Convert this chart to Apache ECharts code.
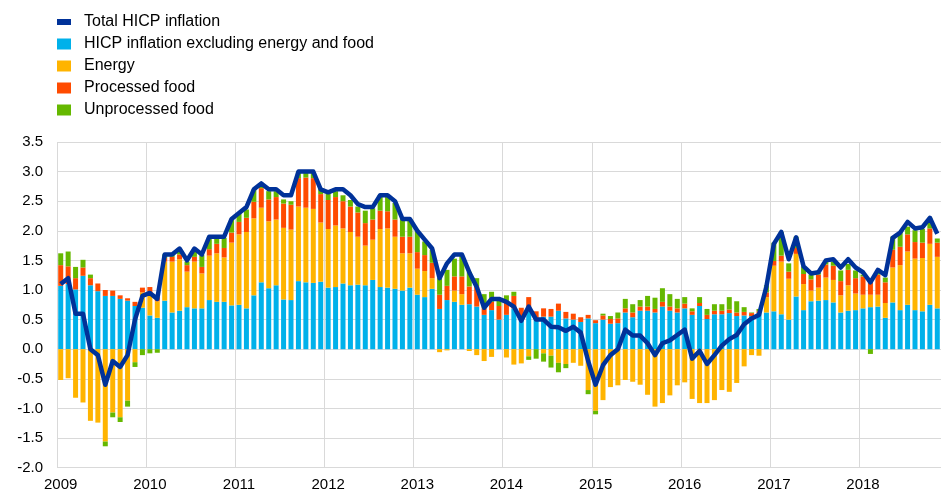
<!DOCTYPE html>
<html>
<head>
<meta charset="utf-8">
<script src="https://cdn.jsdelivr.net/npm/echarts@6/dist/echarts.min.js"></script>
<style>
  html, body { margin: 0; padding: 0; background: #fff; }
  #chart { width: 941px; height: 493px; }
</style>
</head>
<body>
<div id="chart"></div>
<script>
// months Jan 2009 - Nov 2018
const years = ['2009', '2010', '2011', '2012', '2013', '2014', '2015', '2016', '2017', '2018'];
const monthsInLastYear = 11;

// contributions, percentage points
const core = [
  1.07, 1.1, 1.01, 1.24, 1.08, 0.98, 0.9, 0.9, 0.85, 0.82, 0.73, 0.7,
  0.57, 0.53, 0.82, 0.62, 0.65, 0.71, 0.69, 0.69, 0.83, 0.8, 0.8, 0.74,
  0.75, 0.69, 0.91, 1.13, 1.03, 1.08, 0.84, 0.83, 1.15, 1.13, 1.12, 1.14,
  1.04, 1.05, 1.11, 1.08, 1.09, 1.08, 1.17, 1.05, 1.04, 1.02, 0.99, 1.04,
  0.92, 0.88, 1.02, 0.68, 0.83, 0.8, 0.75, 0.76, 0.72, 0.58, 0.66, 0.5,
  0.58, 0.69, 0.55, 0.69, 0.53, 0.55, 0.55, 0.65, 0.52, 0.5, 0.46, 0.52,
  0.44, 0.5, 0.43, 0.44, 0.62, 0.54, 0.65, 0.65, 0.62, 0.72, 0.65, 0.62,
  0.69, 0.58, 0.73, 0.51, 0.59, 0.59, 0.61, 0.56, 0.57, 0.56, 0.61, 0.62,
  0.64, 0.59, 0.5, 0.89, 0.66, 0.81, 0.82, 0.83, 0.79, 0.62, 0.65, 0.66,
  0.69, 0.71, 0.72, 0.53, 0.79, 0.66, 0.75, 0.66, 0.64, 0.75, 0.69
];
const energy = [
  -0.52, -0.49, -0.82, -0.9, -1.21, -1.24, -1.56, -1.07, -1.15, -0.87, -0.22, 0.26,
  0.38, 0.28, 0.66, 0.86, 0.87, 0.6, 0.79, 0.59, 0.75, 0.82, 0.75, 1.06,
  1.19, 1.29, 1.3, 1.26, 1.13, 1.11, 1.21, 1.19, 1.26, 1.26, 1.25, 1.0,
  0.99, 1.04, 0.93, 0.9, 0.81, 0.67, 0.68, 0.98, 1.0, 0.88, 0.63, 0.58,
  0.44, 0.44, 0.18, -0.05, -0.02, 0.19, 0.18, -0.03, -0.1, -0.2, -0.13, 0,
  -0.14, -0.26, -0.24, -0.12, 0, -0.07, -0.11, -0.23, -0.25, -0.23, -0.28, -0.69,
  -1.04, -0.86, -0.64, -0.61, -0.52, -0.55, -0.6, -0.77, -0.97, -0.91, -0.78, -0.61,
  -0.56, -0.84, -0.91, -0.91, -0.86, -0.69, -0.72, -0.57, -0.29, -0.1, -0.11, 0.26,
  0.77, 0.89, 0.69, 0.72, 0.44, 0.18, 0.22, 0.38, 0.38, 0.29, 0.43, 0.28,
  0.23, 0.21, 0.2, 0.25, 0.59, 0.76, 0.9, 0.87, 0.9, 1.03, 0.87
];
const processedFood = [
  0.35, 0.3, 0.19, 0.14, 0.12, 0.13, 0.1, 0.09, 0.06, 0.04, 0.07, 0.08,
  0.1, 0.07, 0.06, 0.08, 0.08, 0.11, 0.08, 0.11, 0.11, 0.16, 0.16, 0.17,
  0.21, 0.24, 0.28, 0.33, 0.37, 0.38, 0.41, 0.42, 0.48, 0.51, 0.52, 0.48,
  0.49, 0.48, 0.46, 0.43, 0.41, 0.38, 0.34, 0.31, 0.29, 0.29, 0.28, 0.28,
  0.28, 0.27, 0.26, 0.24, 0.24, 0.24, 0.3, 0.3, 0.34, 0.11, 0.14, 0.23,
  0.22, 0.21, 0.15, 0.19, 0.11, 0.14, 0.13, 0.12, 0.11, 0.1, 0.08, 0.06,
  0.05, 0.07, 0.08, 0.08, 0.07, 0.08, 0.07, 0.07, 0.06, 0.08, 0.07, 0.07,
  0.08, 0.06, 0.05, 0.07, 0.06, 0.06, 0.06, 0.06, 0.06, 0.05, 0.03, 0.08,
  0.08, 0.1, 0.12, 0.1, 0.17, 0.19, 0.22, 0.22, 0.24, 0.24, 0.26, 0.26,
  0.31, 0.22, 0.34, 0.35, 0.3, 0.31, 0.29, 0.28, 0.26, 0.26, 0.24
];
const unprocessedFood = [
  0.2, 0.25, 0.19, 0.13, 0.06, 0, -0.08, -0.08, -0.08, -0.1, -0.08, -0.1,
  -0.07, -0.06, 0.06, 0.04, 0.06, 0.06, 0.09, 0.2, 0.2, 0.12, 0.17, 0.23,
  0.15, 0.14, 0.21, 0.06, 0.14, 0.1, 0.07, 0.06, 0.11, 0.1, 0.1, 0.1,
  0.12, 0.1, 0.1, 0.11, 0.1, 0.21, 0.19, 0.26, 0.25, 0.28, 0.31, 0.3,
  0.35, 0.23, 0.22, 0.28, 0.27, 0.3, 0.35, 0.25, 0.14, 0.24, 0.17, 0.11,
  0.11, 0.07, 0, -0.06, -0.16, -0.14, -0.2, -0.16, -0.07, 0, 0, -0.07,
  -0.06, 0.03, 0.05, 0.1, 0.16, 0.14, 0.11, 0.18, 0.19, 0.23, 0.21, 0.16,
  0.11, 0.05, 0.1, 0.1, 0.11, 0.11, 0.21, 0.19, 0.08, 0.01, 0.04, 0.12,
  0.31, 0.4, 0.14, 0.19, 0.13, 0.08, 0.03, 0.05, 0.07, 0.18, 0.1, 0.13,
  0.03, -0.08, 0.04, 0.08, 0.22, 0.25, 0.13, 0.2, 0.23, 0.18, 0.07
];
// total HICP inflation, annual % change
const totalHicp = [
  1.1, 1.2, 0.6, 0.6, 0.0, -0.1, -0.6, -0.2, -0.3, -0.1, 0.5, 0.9,
  0.95, 0.85, 1.6, 1.6, 1.7, 1.5, 1.7, 1.6, 1.9, 1.9, 1.9, 2.2,
  2.3, 2.4, 2.7, 2.8, 2.7, 2.7, 2.6, 2.6, 3.0, 3.0, 3.0, 2.7,
  2.65, 2.7, 2.7, 2.6, 2.45, 2.4, 2.4, 2.6, 2.6, 2.5, 2.2, 2.2,
  2.0, 1.85, 1.7, 1.2, 1.45, 1.6, 1.6, 1.3, 1.05, 0.7, 0.85, 0.85,
  0.8, 0.72, 0.48, 0.72, 0.5, 0.5, 0.38, 0.37, 0.31, 0.38, 0.28, -0.2,
  -0.6, -0.27, -0.1, 0.0, 0.33, 0.23, 0.23, 0.1, -0.1, 0.1, 0.15, 0.24,
  0.33, -0.16, -0.03, -0.25, -0.1, 0.06, 0.17, 0.24, 0.42, 0.52, 0.58, 1.06,
  1.78, 1.98, 1.52, 1.89, 1.4, 1.28, 1.3, 1.5, 1.52, 1.38, 1.52, 1.38,
  1.3, 1.13, 1.34, 1.25, 1.88, 1.97, 2.15, 2.04, 2.06, 2.22, 1.95
];

const months = [];
years.forEach((y, yi) => {
  const n = yi === years.length - 1 ? monthsInLastYear : 12;
  for (let m = 1; m <= n; m++) {
    months.push(y + '-' + (m < 10 ? '0' + m : m));
  }
});

const colors = {
  total: '#003299',
  core: '#00b1ea',
  energy: '#ffb400',
  processed: '#ff4b00',
  unprocessed: '#65b800'
};

const font = '"Liberation Sans", Arial, sans-serif';
const gridColor = '#d9d9d9';

const chart = echarts.init(document.getElementById('chart'), null, { renderer: 'canvas' });

function barSeries(name, data, color) {
  return {
    name: name,
    type: 'bar',
    stack: 'hicp',
    barWidth: 5,
    data: data,
    itemStyle: { color: color }
  };
}

chart.setOption({
  animation: false,
  textStyle: { fontFamily: font },
  legend: {
    orient: 'vertical',
    left: 57,
    top: 14,
    padding: 0,
    itemWidth: 14,
    itemHeight: 11,
    itemGap: 6,
    selectedMode: false,
    textStyle: { fontSize: 16, color: '#000', fontFamily: font, lineHeight: 16, padding: [0, 0, 0, 8] },
    data: [
      { name: 'Total HICP inflation', icon: 'path://M0,0h14v6h-14z' },
      { name: 'HICP inflation excluding energy and food', icon: 'rect' },
      { name: 'Energy', icon: 'rect' },
      { name: 'Processed food', icon: 'rect' },
      { name: 'Unprocessed food', icon: 'rect' }
    ]
  },
  grid: {
    left: 57,
    top: 142,
    width: 887,
    height: 325.6
  },
  xAxis: {
    type: 'category',
    data: months,
    boundaryGap: true,
    axisLine: { show: false, onZero: false },
    axisTick: { show: false },
    splitLine: {
      show: true,
      interval: (index) => index % 12 === 0,
      lineStyle: { color: gridColor, width: 1 }
    },
    axisLabel: {
      interval: (index) => index % 12 === 0,
      formatter: (v) => v.slice(0, 4),
      fontSize: 15,
      color: '#000',
      fontFamily: font,
      margin: 10
    }
  },
  yAxis: {
    type: 'value',
    min: -2,
    max: 3.5,
    interval: 0.5,
    axisLine: { show: false },
    axisTick: { show: false },
    splitLine: { lineStyle: { color: gridColor, width: 1 } },
    axisLabel: {
      formatter: (v) => v.toFixed(1),
      fontSize: 15,
      color: '#000',
      fontFamily: font,
      margin: 14
    }
  },
  series: [
    barSeries('HICP inflation excluding energy and food', core, colors.core),
    barSeries('Energy', energy, colors.energy),
    barSeries('Processed food', processedFood, colors.processed),
    barSeries('Unprocessed food', unprocessedFood, colors.unprocessed),
    {
      name: 'Total HICP inflation',
      type: 'line',
      data: totalHicp,
      symbol: 'none',
      z: 5,
      lineStyle: { color: colors.total, width: 4.5, join: 'round' },
      itemStyle: { color: colors.total }
    }
  ]
});
</script>
</body>
</html>
